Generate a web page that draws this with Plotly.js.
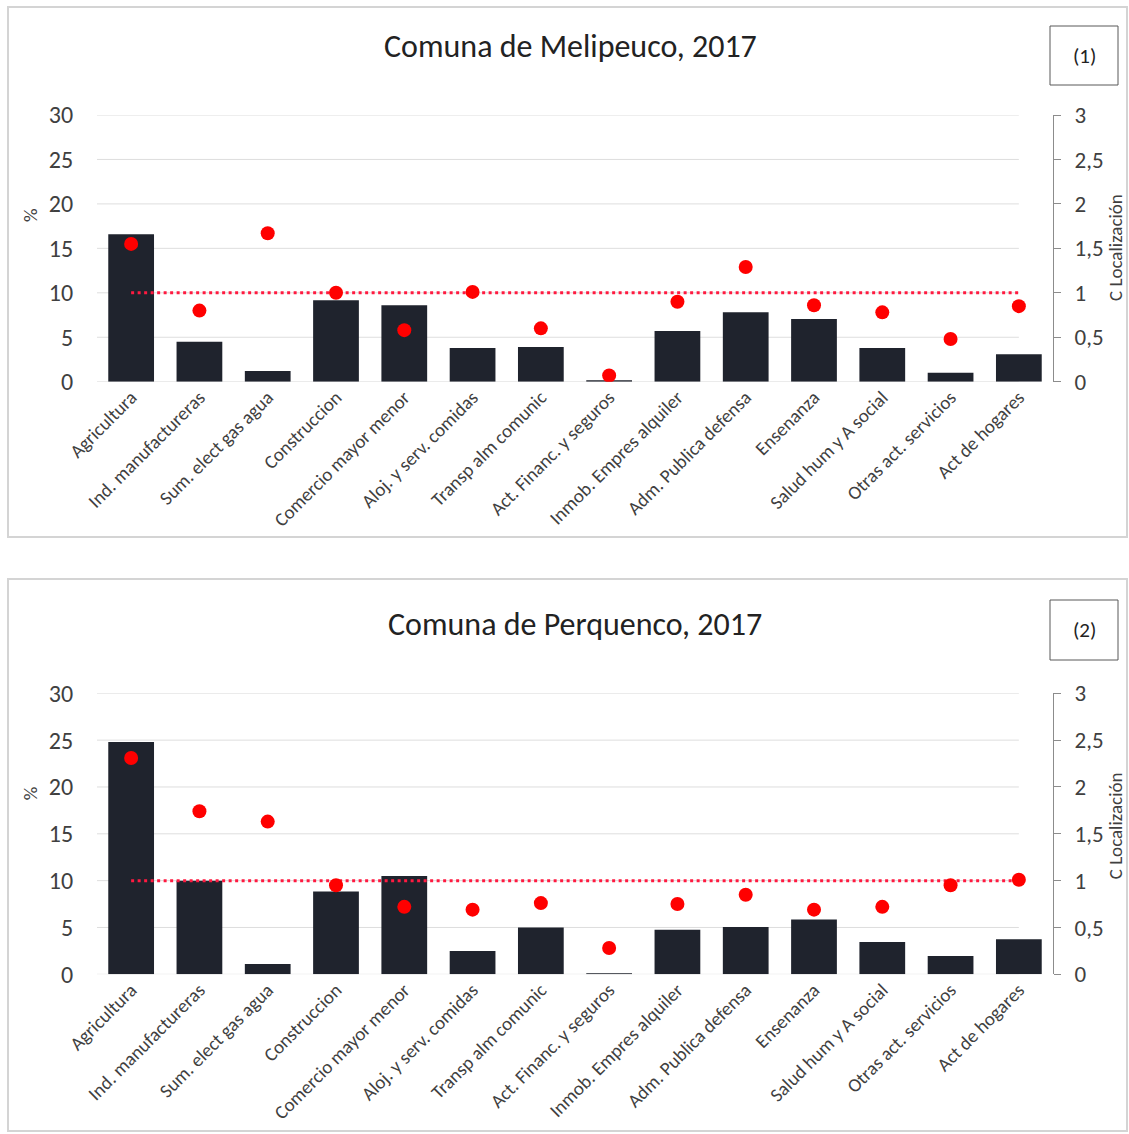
<!DOCTYPE html>
<html>
<head>
<meta charset="utf-8">
<script src="https://cdn.plot.ly/plotly-3.0.1.min.js"></script>
<style>
html,body{margin:0;padding:0;background:#fff;}
#chart{width:1129px;height:1134px;}
</style>
</head>
<body>
<div id="chart"></div>
<script>
// ---------- DATA ----------
const categories = [
  "Agricultura", "Ind. manufactureras", "Sum. elect gas agua", "Construccion",
  "Comercio mayor menor", "Aloj. y serv. comidas", "Transp alm comunic",
  "Act. Financ. y seguros", "Inmob. Empres alquiler", "Adm. Publica defensa",
  "Ensenanza", "Salud hum y A social", "Otras act. servicios", "Act de hogares"
];
// Comuna de Melipeuco, 2017
const melipeucoPct = [16.6, 4.5, 1.2, 9.15, 8.6, 3.8, 3.9, 0.15, 5.7, 7.8, 7.05, 3.8, 1.0, 3.1];
const melipeucoCL  = [1.55, 0.80, 1.67, 1.00, 0.58, 1.01, 0.60, 0.07, 0.90, 1.29, 0.86, 0.78, 0.48, 0.85];
// Comuna de Perquenco, 2017
const perquencoPct = [24.8, 10.0, 1.1, 8.85, 10.5, 2.5, 5.0, 0.1, 4.75, 5.05, 5.85, 3.45, 1.95, 3.75];
const perquencoCL  = [2.31, 1.74, 1.63, 0.95, 0.72, 0.69, 0.76, 0.28, 0.75, 0.85, 0.69, 0.72, 0.95, 1.01];
const referenceLevel = 1;
const leftTicks = [0, 5, 10, 15, 20, 25, 30];
const titles = ["Comuna de Melipeuco, 2017", "Comuna de Perquenco, 2017"];
const labels = ["(1)", "(2)"];
const leftTitle = "%";
const rightTitle = "C Localización";

// ---------- LAYOUT HELPERS ----------
const W = 1129, H = 1134;
const FONT = "Carlito, 'Noto Sans', 'Open Sans', sans-serif";
const px = v => v / W;
const py = v => 1 - v / H;
const barColor = "#1f232d";
const dotColor = "#ff0000";
const lineColor = "#ff1a40";
const textColor = "#404040";

const panels = [
  {pct: melipeucoPct, cl: melipeucoCL, top: 115, bottom: 381.7, frameTop: 7, frameBottom: 537, titleX: 570, titleY: 46, boxTop: 26, boxBottom: 85},
  {pct: perquencoPct, cl: perquencoCL, top: 693.3, bottom: 974.3, frameTop: 579, frameBottom: 1131, titleX: 575, titleY: 624, boxTop: 600, boxBottom: 660}
];

const traces = [];
const layout = {
  width: W, height: H,
  margin: {l: 0, r: 0, t: 0, b: 0},
  paper_bgcolor: "#ffffff",
  plot_bgcolor: "rgba(0,0,0,0)",
  showlegend: false,
  separators: ", ",
  bargap: 0.33,
  font: {family: FONT, color: textColor},
  shapes: [],
  annotations: []
};

panels.forEach((p, i) => {
  const xa = i === 0 ? "x" : "x2";
  const yl = i === 0 ? "y" : "y3";
  const yr = i === 0 ? "y2" : "y4";
  const xKey = i === 0 ? "xaxis" : "xaxis2";
  const ylKey = i === 0 ? "yaxis" : "yaxis3";
  const yrKey = i === 0 ? "yaxis2" : "yaxis4";

  traces.push({
    type: "bar", x: categories, y: p.pct, xaxis: xa, yaxis: yl,
    marker: {color: barColor}, hoverinfo: "x+y"
  });
  traces.push({
    type: "scatter", mode: "lines",
    x: [categories[0], categories[categories.length - 1]],
    y: [referenceLevel, referenceLevel],
    xaxis: xa, yaxis: yr,
    line: {color: lineColor, width: 3, dash: "3px,3.5px"},
    hoverinfo: "skip"
  });
  traces.push({
    type: "scatter", mode: "markers", x: categories, y: p.cl, xaxis: xa, yaxis: yr,
    marker: {color: dotColor, size: 14}
  });

  layout[xKey] = {
    domain: [px(97), px(1053)],
    anchor: yl,
    type: "category",
    range: [-0.5, categories.length - 0.5],
    autorange: false,
    tickangle: -45,
    tickfont: {size: 19, color: textColor, family: FONT},
    showgrid: false, showline: false, zeroline: false, ticks: "",
    fixedrange: true
  };
  layout[ylKey] = {
    domain: [py(p.bottom), py(p.top)],
    anchor: xa,
    range: [0, 30], tickvals: leftTicks,
    showgrid: false,
    zeroline: false, showline: false,
    ticks: "outside", ticklen: 18, tickcolor: "rgba(0,0,0,0)",
    tickfont: {size: 24, color: textColor, family: FONT},
    fixedrange: true
  };
  layout[yrKey] = {
    overlaying: yl, side: "right", anchor: xa,
    range: [0, 3], dtick: 0.5,
    showgrid: false, zeroline: false,
    showline: true, linecolor: "#8c8c8c", linewidth: 1,
    ticks: "outside", ticklen: 7, tickcolor: "#8c8c8c",
    ticklabelstandoff: 9,
    tickfont: {size: 23, color: textColor, family: FONT},
    fixedrange: true
  };

  // gridlines (stop at the last category centre, as in the original)
  leftTicks.forEach(v => {
    layout.shapes.push({
      type: "line", xref: xa, yref: yl,
      x0: -0.5, x1: categories.length - 1, y0: v, y1: v,
      line: {color: "#dedede", width: 1}, layer: "below"
    });
  });

  // outer frame
  layout.shapes.push({
    type: "rect", xref: "paper", yref: "paper",
    x0: px(8), x1: px(1127), y0: py(p.frameBottom), y1: py(p.frameTop),
    line: {color: "#d4d4d4", width: 2}, fillcolor: "rgba(0,0,0,0)", layer: "below"
  });
  // label box
  layout.shapes.push({
    type: "rect", xref: "paper", yref: "paper",
    x0: px(1050), x1: px(1118), y0: py(p.boxBottom), y1: py(p.boxTop),
    line: {color: "#595959", width: 1}, fillcolor: "#ffffff"
  });
  layout.annotations.push({
    xref: "paper", yref: "paper", x: px(1084), y: py((p.boxTop + p.boxBottom) / 2),
    text: labels[i], showarrow: false, xanchor: "center", yanchor: "middle",
    font: {size: 21, color: "#222222", family: FONT}
  });
  layout.annotations.push({
    xref: "paper", yref: "paper", x: px(p.titleX), y: py(p.titleY),
    text: titles[i], showarrow: false, xanchor: "center", yanchor: "middle",
    font: {size: 32, color: "#222222", family: FONT}
  });
  layout.annotations.push({
    xref: "paper", yref: "paper", x: px(30), y: py(p.top + 100),
    text: leftTitle, showarrow: false, textangle: -90, xanchor: "center", yanchor: "middle",
    font: {size: 19, color: textColor, family: FONT}
  });
  layout.annotations.push({
    xref: "paper", yref: "paper", x: px(1115), y: py(p.top + 133),
    text: rightTitle, showarrow: false, textangle: -90, xanchor: "center", yanchor: "middle",
    borderpad: 0,
    font: {size: 19, color: textColor, family: FONT}
  });
});

Plotly.newPlot("chart", traces, layout, {displayModeBar: false, staticPlot: true});
</script>
</body>
</html>
